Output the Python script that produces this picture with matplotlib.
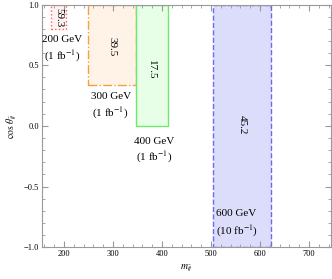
import matplotlib
matplotlib.use("Agg")
import matplotlib.pyplot as plt
from matplotlib.patches import Rectangle
from matplotlib.ticker import MultipleLocator

plt.rcParams["font.family"] = ["Liberation Serif", "DejaVu Serif"]
plt.rcParams["mathtext.fontset"] = "stix"

# one box per benchmark mass: (m_lo, m_hi) window, lower cos cut, significance
masses = ["200 GeV", "300 GeV", "400 GeV", "600 GeV"]
lumis = ["(1 fb$^{-1}$)", "(1 fb$^{-1}$)", "(1 fb$^{-1}$)", "(10 fb$^{-1}$)"]
m_lo = [173, 249, 347, 505]
m_hi = [204, 347, 412, 623]
cos_lo = [0.80, 0.34, 0.0, -1.0]
cos_hi = [1.0, 1.0, 1.0, 1.0]
values = ["59.3", "39.5", "17.5", "45.2"]
value_y = [0.89, 0.65, 0.46, 0.01]

# where the mass / luminosity captions sit
label_x = [196, 295, 384, 552]
label_y = [0.71, 0.24, -0.13, -0.72]
lumi_y = [0.57, 0.105, -0.26, -0.865]

edge_colors = ["#ff6060", "#f5a040", "#70e870", "#6b6bf0"]
face_colors = ["#fff2f2", "#fff3e8", "#e6ffe6", "#dcdcfb"]
line_styles = [":", "-.", "-", "--"]

fig = plt.figure(figsize=(3.32, 2.79), dpi=100)
ax = fig.add_axes([42 / 332, 1 - 247.3 / 279, 289 / 332, 242.8 / 279])

for i in range(len(masses)):
    ax.add_patch(Rectangle((m_lo[i], cos_lo[i]), m_hi[i] - m_lo[i], cos_hi[i] - cos_lo[i],
                           facecolor=face_colors[i], edgecolor=edge_colors[i],
                           linestyle=line_styles[i], linewidth=1.0, zorder=1))
    ax.text((m_lo[i] + m_hi[i]) / 2, value_y[i], values[i], rotation=-90,
            ha="center", va="center", fontsize=8)
    ax.text(label_x[i], label_y[i], masses[i], ha="center", va="center", fontsize=8)
    ax.text(label_x[i], lumi_y[i], lumis[i], ha="center", va="center", fontsize=8)

ax.set_xlim(155, 745)
ax.set_ylim(-1.0, 1.0)
ax.xaxis.set_major_locator(MultipleLocator(100))
ax.xaxis.set_minor_locator(MultipleLocator(20))
ax.yaxis.set_major_locator(MultipleLocator(0.5))
ax.yaxis.set_minor_locator(MultipleLocator(0.1))
ax.yaxis.set_major_formatter(matplotlib.ticker.FuncFormatter(
    lambda v, p: f"{v:.1f}".replace("-", "\u2212")))

for s in ax.spines.values():
    s.set_color("#999999")
    s.set_linewidth(0.8)
ax.tick_params(which="both", direction="in", top=True, right=True,
               color="#999999", labelsize=6, pad=2)
ax.tick_params(which="major", length=4)
ax.tick_params(which="minor", length=2)

fig.text(186 / 332, 1 - 268 / 279, r"$m_{\bar{t}j}$", ha="center", va="center", fontsize=7)
fig.text(12 / 332, 1 - 126 / 279, r"$\cos\,\theta_{\bar{t}j}$", ha="center", va="center",
         rotation=90, fontsize=7)

fig.savefig("out.png", dpi=100)
